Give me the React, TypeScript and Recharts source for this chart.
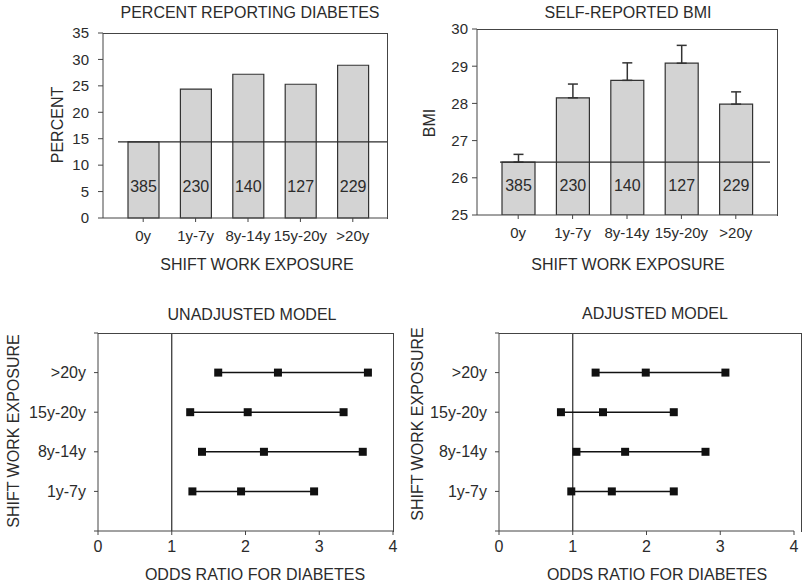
import {
  Bar,
  BarChart,
  ErrorBar,
  LabelList,
  ReferenceLine,
  Scatter,
  ScatterChart,
  XAxis,
  YAxis,
  ZAxis,
} from 'recharts';

const categories = ['0y', '1y-7y', '8y-14y', '15y-20y', '>20y'];
const counts = [385, 230, 140, 127, 229];
const diabetesPct = [14.4, 24.4, 27.2, 25.3, 28.9];
const diabetesOverall = 14.4;
const bmiMean = [26.42, 28.15, 28.62, 29.08, 27.98];
const bmiUpperErr = [0.21, 0.37, 0.47, 0.48, 0.33];
const bmiOverall = 26.42;
const pctTicks = [0, 5, 10, 15, 20, 25, 30, 35];
const bmiTicks = [25, 26, 27, 28, 29, 30];

const exposureRows = ['1y-7y', '8y-14y', '15y-20y', '>20y'];
const unadjLow = [1.28, 1.41, 1.25, 1.63];
const unadjOR = [1.94, 2.25, 2.03, 2.44];
const unadjHigh = [2.93, 3.59, 3.33, 3.66];
const adjLow = [0.98, 1.05, 0.84, 1.31];
const adjOR = [1.53, 1.71, 1.41, 1.99];
const adjHigh = [2.37, 2.8, 2.37, 3.07];
const orTicks = [0, 1, 2, 3, 4];
const rowTicks = [0, 1, 2, 3, 4, 5];

const FONT = '"Liberation Sans", Arial, sans-serif';
const INK = '#2b2b2b';
const AXIS = '#444';
const tickStyle = { fill: INK, fontSize: 15, fontFamily: FONT };
const bigTickStyle = { fill: INK, fontSize: 16, fontFamily: FONT };

const pctData = categories.map((c, i) => ({ cat: c, value: diabetesPct[i], n: counts[i] }));
const bmiData = categories.map((c, i) => ({
  cat: c,
  value: bmiMean[i],
  n: counts[i],
  err: [0, bmiUpperErr[i]],
}));

function rowsOf(lo: number[], or: number[], hi: number[]) {
  return exposureRows.map((_, i) => [
    { x: lo[i], y: i + 1 },
    { x: or[i], y: i + 1 },
    { x: hi[i], y: i + 1 },
  ]);
}

function Txt({ x, y, children, rotate }: { x: number; y: number; children: string; rotate?: boolean }) {
  return (
    <div
      style={{
        position: 'absolute',
        left: x,
        top: y,
        transform: `translate(-50%, -50%)${rotate ? ' rotate(-90deg)' : ''}`,
        whiteSpace: 'nowrap',
        fontSize: 16,
        lineHeight: '16px',
        color: INK,
      }}
    >
      {children}
    </div>
  );
}

function Frame({ left, top, width, height }: { left: number; top: number; width: number; height: number }) {
  return (
    <div
      style={{
        position: 'absolute',
        left,
        top,
        width,
        height,
        borderTop: `1px solid ${AXIS}`,
        borderRight: `1px solid ${AXIS}`,
        boxSizing: 'border-box',
        pointerEvents: 'none',
      }}
    />
  );
}

function trimmedLine(dl: number, dr: number) {
  return (p: any) => (
    <line x1={p.x1 + dl} y1={p.y1} x2={p.x2 - dr} y2={p.y2} stroke={INK} strokeWidth={1.2} />
  );
}

function ForestChart({ rows }: { rows: { x: number; y: number }[][] }) {
  return (
    <ScatterChart width={400} height={297} margin={{ top: 43, right: 7, bottom: 26, left: 38 }}>
      <XAxis
        type="number"
        dataKey="x"
        domain={[0, 4]}
        ticks={orTicks}
        height={30}
        tickSize={4}
        tickMargin={6}
        tick={bigTickStyle}
        stroke={AXIS}
      />
      <YAxis
        type="number"
        dataKey="y"
        domain={[0, 5]}
        ticks={rowTicks}
        width={60}
        tickSize={4}
        tickMargin={8}
        tick={bigTickStyle}
        stroke={AXIS}
        tickFormatter={(v: number) => exposureRows[v - 1] ?? ''}
      />
      <ZAxis range={[60, 60]} />
      <ReferenceLine x={1} stroke={INK} strokeWidth={1.2} />
      {rows.map((r, i) => (
        <Scatter
          key={i}
          data={r}
          shape="square"
          fill="#111"
          line={{ stroke: '#111', strokeWidth: 1.5 }}
          isAnimationActive={false}
        />
      ))}
    </ScatterChart>
  );
}

export default function App() {
  return (
    <div
      style={{
        position: 'absolute',
        left: 0,
        top: 0,
        width: 809,
        height: 587,
        background: '#fff',
        fontFamily: FONT,
        overflow: 'hidden',
      }}
    >
      <div style={{ position: 'absolute', left: 0, top: 0 }}>
        <BarChart width={400} height={290} data={pctData} margin={{ top: 33, right: 13, bottom: 42, left: 63 }}>
          <XAxis
            dataKey="cat"
            height={30}
            padding={{ left: 14, right: 8 }}
            tickSize={4}
            tickMargin={8}
            tick={tickStyle}
            stroke={AXIS}
            interval={0}
          />
          <YAxis
            domain={[0, 35]}
            ticks={pctTicks}
            width={40}
            tickSize={5}
            tickMargin={9}
            tick={tickStyle}
            stroke={AXIS}
          />
          <Bar dataKey="value" fill="#d3d3d3" stroke="#333" strokeWidth={1.2} barSize={31} isAnimationActive={false}>
            <LabelList dataKey="n" position="insideBottom" offset={26} fill={INK} fontSize={16} fontFamily={FONT} />
          </Bar>
          <ReferenceLine y={diabetesOverall} shape={trimmedLine(15, 0)} />
        </BarChart>
      </div>
      <Frame left={103} top={33} width={285} height={186} />
      <Txt x={250} y={13}>PERCENT REPORTING DIABETES</Txt>
      <Txt x={58} y={125} rotate>PERCENT</Txt>
      <Txt x={257} y={265}>SHIFT WORK EXPOSURE</Txt>

      <div style={{ position: 'absolute', left: 400, top: 0 }}>
        <BarChart width={409} height={290} data={bmiData} margin={{ top: 29, right: 32, bottom: 45, left: 37 }}>
          <XAxis
            dataKey="cat"
            height={30}
            padding={{ left: 14, right: 14 }}
            tickSize={4}
            tickMargin={8}
            tick={tickStyle}
            stroke={AXIS}
            interval={0}
          />
          <YAxis
            domain={[25, 30]}
            ticks={bmiTicks}
            width={40}
            tickSize={5}
            tickMargin={4}
            tick={tickStyle}
            stroke={AXIS}
            allowDataOverflow
          />
          <Bar dataKey="value" fill="#d3d3d3" stroke="#333" strokeWidth={1.2} barSize={33} isAnimationActive={false}>
            <ErrorBar dataKey="err" direction="y" width={5} stroke="#333" strokeWidth={1.5} />
            <LabelList dataKey="n" position="insideBottom" offset={24} fill={INK} fontSize={16} fontFamily={FONT} />
          </Bar>
          <ReferenceLine y={bmiOverall} shape={trimmedLine(23, 7)} />
        </BarChart>
      </div>
      <Frame left={477} top={29} width={301} height={187} />
      <Txt x={628} y={13}>SELF-REPORTED BMI</Txt>
      <Txt x={430} y={123} rotate>BMI</Txt>
      <Txt x={628} y={265}>SHIFT WORK EXPOSURE</Txt>

      <div style={{ position: 'absolute', left: 0, top: 290 }}>
        <ForestChart rows={rowsOf(unadjLow, unadjOR, unadjHigh)} />
      </div>
      <Frame left={98} top={333} width={296} height={199} />
      <Txt x={252} y={315}>UNADJUSTED MODEL</Txt>
      <Txt x={14} y={431} rotate>SHIFT WORK EXPOSURE</Txt>
      <Txt x={255} y={575}>ODDS RATIO FOR DIABETES</Txt>

      <div style={{ position: 'absolute', left: 401, top: 290 }}>
        <ForestChart rows={rowsOf(adjLow, adjOR, adjHigh)} />
      </div>
      <Frame left={499} top={333} width={303} height={199} />
      <Txt x={655} y={314}>ADJUSTED MODEL</Txt>
      <Txt x={418} y={424} rotate>SHIFT WORK EXPOSURE</Txt>
      <Txt x={657} y={575}>ODDS RATIO FOR DIABETES</Txt>
    </div>
  );
}
